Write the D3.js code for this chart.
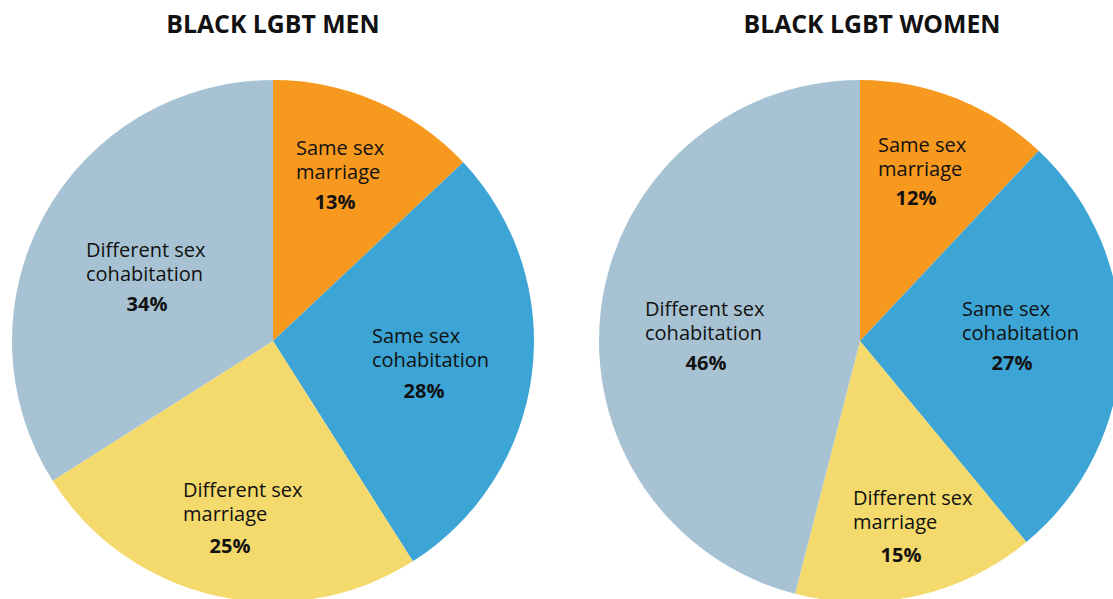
<!DOCTYPE html>
<html>
<head>
<meta charset="utf-8">
<script src="https://cdn.jsdelivr.net/npm/d3@7"></script>
<style>
  html, body { margin: 0; padding: 0; background: #fff; overflow: hidden; }
  svg { display: block; font-family: "Open Sans", sans-serif; }
</style>
</head>
<body>
<svg id="chart" width="1113" height="599"></svg>
<script>
// ---- data ----
const categories = ["Same sex marriage", "Same sex cohabitation", "Different sex marriage", "Different sex cohabitation"];
const labelLines = [["Same sex", "marriage"], ["Same sex", "cohabitation"], ["Different sex", "marriage"], ["Different sex", "cohabitation"]];
const menValues = [13, 28, 25, 34];
const womenValues = [12, 27, 15, 46];
const titles = ["BLACK LGBT MEN", "BLACK LGBT WOMEN"];
const colors = ["#F7991E", "#3DA5D5", "#F4DA6C", "#A7C3D3"];

// ---- layout (label placement relative to pie centre) ----
const R = 261;
const pies = [
  { values: menValues, title: titles[0], cx: 273, cy: 341, titleX: 273,
    labels: [ {x: 23, y: -186, px: 62, py: -132},
              {x: 99, y: 2, px: 151, py: 57},
              {x: -90, y: 156, px: -43, py: 212},
              {x: -187, y: -84, px: -126, py: -30} ] },
  { values: womenValues, title: titles[1], cx: 860, cy: 341, titleX: 872,
    labels: [ {x: 18, y: -189, px: 56, py: -136},
              {x: 102, y: -25, px: 152, py: 29},
              {x: -7, y: 164, px: 41, py: 221},
              {x: -215, y: -25, px: -154, py: 29} ] }
];

const svg = d3.select("#chart");
const pie = d3.pie().sort(null).value(d => d);
const arc = d3.arc().innerRadius(0).outerRadius(R);

pies.forEach(p => {
  svg.append("text")
    .attr("x", p.titleX).attr("y", 33)
    .attr("text-anchor", "middle")
    .attr("font-size", 24.8).attr("font-weight", 700)
    .attr("fill", "#111")
    .text(p.title);

  const g = svg.append("g").attr("transform", `translate(${p.cx},${p.cy})`);
  const arcs = pie(p.values);
  g.selectAll("path").data(arcs).enter().append("path")
    .attr("d", arc)
    .attr("fill", (d, i) => colors[i]);

  arcs.forEach((d, i) => {
    const L = p.labels[i];
    const t = g.append("text")
      .attr("font-size", 20).attr("fill", "#111");
    labelLines[i].forEach((line, k) => {
      t.append("tspan").attr("x", L.x).attr("y", L.y + k * 24).text(line);
    });
    g.append("text")
      .attr("x", L.px).attr("y", L.py)
      .attr("text-anchor", "middle")
      .attr("font-size", 20).attr("font-weight", 700).attr("fill", "#111")
      .text(d.data + "%");
  });
});
</script>
</body>
</html>
